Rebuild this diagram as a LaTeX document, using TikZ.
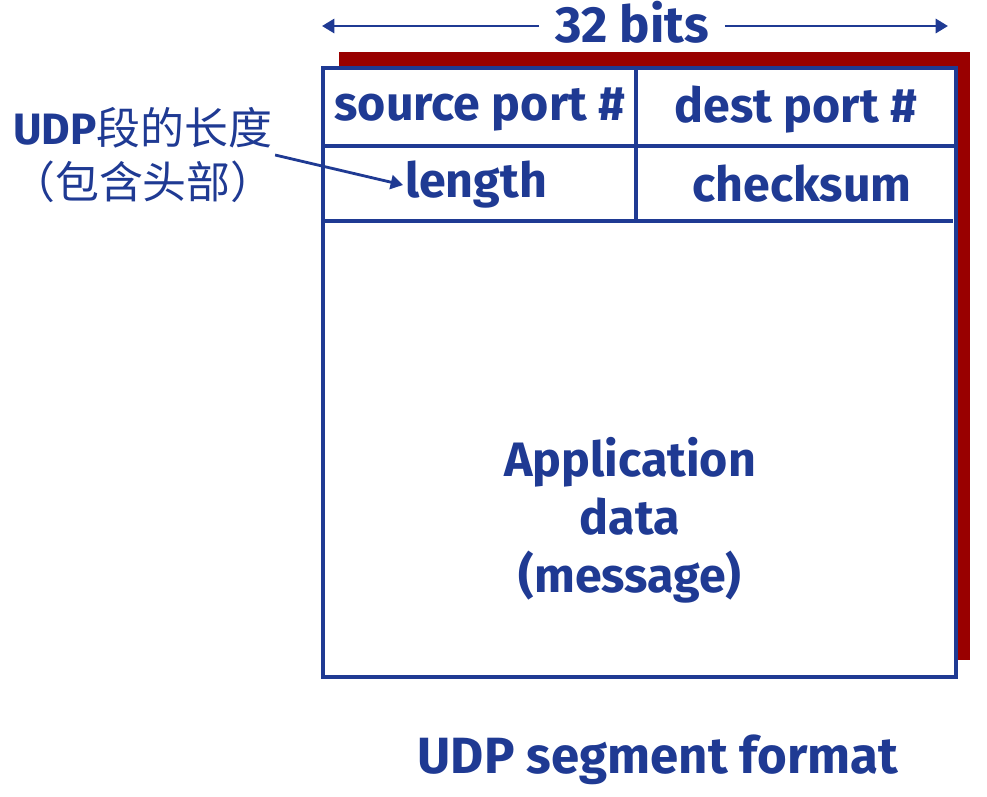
\documentclass[tikz,border=0pt]{standalone}
\usepackage{fontspec}
\setmainfont{Fira Sans}
\newfontfamily\cjkfont{Noto Sans CJK SC}
\usetikzlibrary{arrows.meta}
\definecolor{udpblue}{RGB}{31,58,147}
\definecolor{udpred}{RGB}{153,0,0}

\begin{document}
\begin{tikzpicture}[x=0.02cm,y=-0.02cm,>={Triangle[length=7pt,width=8pt]},
  line join=miter,
  field/.style={font=\fontsize{27.5}{33}\selectfont\bfseries,text=udpblue,inner sep=1pt},
  rule/.style={udpblue,line width=1.8pt}]
\useasboundingbox (0,0) rectangle (987,796);

%% ---------------- the width of the segment ----------------
\node[field,inner xsep=9pt,font=\fontsize{29}{33}\selectfont\bfseries]
  (bits) at (632,22) {32 bits};
\coordinate (bitsl) at (322,26);
\coordinate (bitsr) at (948,26);
\draw[->,udpblue,line width=1.6pt] (bits.west |- bitsl) -- (bitsl);
\draw[->,udpblue,line width=1.6pt] (bits.east |- bitsr) -- (bitsr);

%% ---------------- the segment and its shadow ----------------
\fill[udpred] (339,52) rectangle (970,660);
\draw[rule,fill=white] (323,68) rectangle (956,677);
\draw[rule] (323,146) -- (956,146);
\draw[rule] (323,221) -- (953,221);
\draw[rule] (636,68) -- (636,221);

%% header fields
\node[field] (srcport)  at (480,110) {source port \#};
\node[field] (dstport)  at (796,110) {dest port \#};
\node[field] (length)   at (476,185) {length};
\node[field] (checksum) at (802,184) {checksum};

%% payload
\node[field,align=center] (appdata) at (630,520)
  {Application\\data\\(message)};

%% ---------------- note on the length field ----------------
\node[text=udpblue,align=center,inner sep=0pt,
  font=\fontsize{25}{31}\selectfont] (udplen) at (143,155)
  {\textbf{UDP}\cjkfont 段的长度\\\cjkfont （包含头部）};
\draw[->,udpblue,line width=1.6pt] (udplen.east) -- (length.west);

\node[field,font=\fontsize{29}{33}\selectfont\bfseries] (caption) at (658,760)
  {UDP segment format};
\end{tikzpicture}
\end{document}
